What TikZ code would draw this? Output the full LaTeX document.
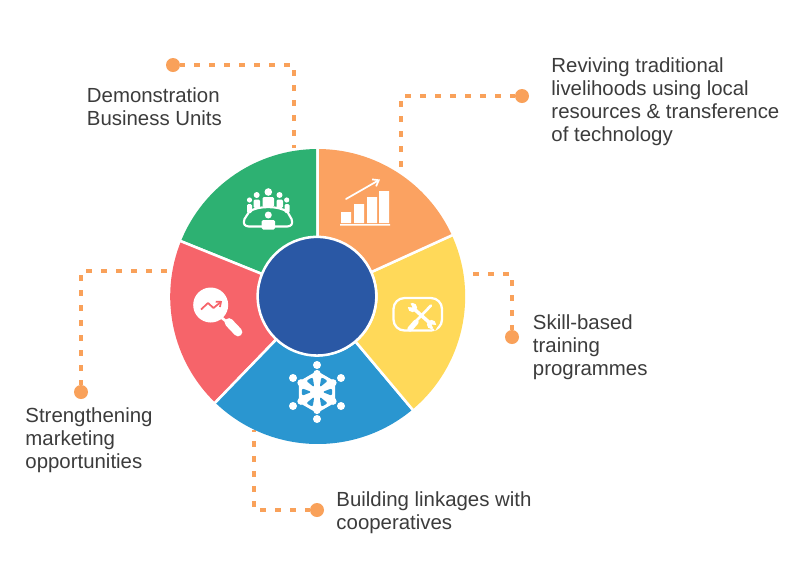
\documentclass[tikz,border=0pt]{standalone}
\usepackage{fontspec}
\setmainfont{Liberation Sans}
\usetikzlibrary{arrows.meta}
\definecolor{cgreen}{HTML}{2DB172}
\definecolor{corange}{HTML}{FBA261}
\definecolor{cyellow}{HTML}{FFD959}
\definecolor{cblue}{HTML}{2A96D0}
\definecolor{cred}{HTML}{F6646A}
\definecolor{ccentre}{HTML}{2A58A5}
\definecolor{cline}{HTML}{F9A15A}
\definecolor{ctext}{HTML}{3C3C3C}
\tikzset{
  sector/.style={draw=white,line width=1.9pt,line join=round},
  conn/.style={draw=cline,line width=2.3pt,dash pattern=on 4.3pt off 6.95pt,dash phase=.75pt},
  dot/.style={circle,fill=cline,minimum size=10.5pt,inner sep=0pt},
  lab/.style={anchor=north west,inner sep=0pt,align=left,text=ctext,font=\fontsize{15.3}{17.25}\selectfont},
  ic/.style={fill=white,draw=none},
  icl/.style={draw=white,line cap=round,line join=round}
}
\newcommand{\sect}[3]{\fill[#1] (#2:60) -- (#2:147.5) arc[start angle=#2,end angle=#3,radius=147.5] -- (#3:60) arc[start angle=#3,end angle=#2,radius=60] -- cycle;
\draw[sector] (#2:60) -- (#2:148) (#3:60) -- (#3:148);}
\begin{document}
\begin{tikzpicture}[x=.75pt,y=-.75pt]
\useasboundingbox (0,0) rectangle (801,576);
\fill[white] (0,0) rectangle (801,576);
% connectors
\node[dot] (d1) at (173,65) {};
\node[dot] (d2) at (522,96) {};
\node[dot] (d3) at (512,337) {};
\node[dot] (d4) at (317,510) {};
\node[dot] (d5) at (81,392) {};
\coordinate (e1) at (294,148);
\coordinate (e2) at (401,178);
\coordinate (e3) at (464,274);
\coordinate (e4) at (254,430);
\coordinate (e5) at (172,271);
\draw[conn] (d1) -| (e1);
\draw[conn] (d2) -| (e2);
\draw[conn] (d3) |- (e3);
\draw[conn] (d4) -| (e4);
\draw[conn] (d5) |- (e5);
% wheel
\begin{scope}[shift={(317.7,296.5)},yscale=-1]
\sect{cgreen}{90}{158}
\sect{cred}{158}{226}
\sect{cblue}{226}{310}
\sect{cyellow}{310}{384.5}
\sect{corange}{24.5}{90}
\end{scope}
\node[circle,fill=ccentre,draw=white,line width=1.9pt,minimum size=89pt,inner sep=0pt] (hub) at (317,296.2) {};
% green icon
\fill[ic] (268.3,192) circle (3.8) (256.7,195) circle (3) (279.5,195) circle (3) (249.5,200) circle (2.6) (286.7,200) circle (2.6) (268.3,215) circle (3.5);
\fill[ic,rounded corners=1pt] (262.5,197) rectangle (274,207) (253.5,199.5) rectangle (260,208) (276.5,199.5) rectangle (283,208) (247,204) rectangle (252,213) (284.5,204) rectangle (289.5,213);
\draw[icl,line width=1.6pt] (249,212) .. controls (256,205.5) and (280,205.5) .. (287.5,212) -- (291.5,219) .. controls (293.5,224) and (291,226.5) .. (287,226.5) -- (249,226.5) .. controls (245,226.5) and (242.5,224) .. (244.5,219) -- cycle;
\fill[ic,rounded corners=1pt] (261.7,220) rectangle (275,229.5);
% orange icon
\fill[ic] (341,212) rectangle (351,223) (354,204) rectangle (364,223) (367,197) rectangle (377,223) (379,191) rectangle (389,223) (340,224) rectangle (390,225.5);
\draw[icl,line width=1.3pt,-{Straight Barb[length=4pt,width=6pt]}] (346,199) -- (380,179.5);
% red icon
\fill[ic] (210.7,305) circle (17.5);
\draw[icl,line width=2pt] (222,318) -- (227,322);
\draw[icl,line width=6.5pt] (229,322.5) -- (238,332);
\draw[cred,line width=1.3pt,line join=round,-{Straight Barb[length=3pt,width=5pt]}] (201,309.5) -- (208,303) -- (213.5,308) -- (222,301);
% blue icon
\fill[ic] (317,365) circle (4) (293,378) circle (4) (341,378) circle (4) (293,406) circle (4) (341,406) circle (4) (317,419) circle (4);
\begin{scope}[shift={(317,392)},yscale=-1]
\foreach \a in {90,150,210,270,330,30}{
  \fill[ic] (\a:18.5) circle (3.6);
}
\fill[ic] (90:21) -- (150:21) -- (210:21) -- (270:21) -- (330:21) -- (30:21) -- cycle;
\foreach \a in {60,120,180,240,300,0}{
  \fill[cblue,rounded corners=1.5pt] (\a:5.5) -- (\a+14:15.5) -- (\a-14:15.5) -- cycle;
}
\end{scope}
% yellow icon
\draw[icl,line width=1.7pt] (393.5,309) arc[start angle=180,end angle=270,radius=11] -- (431,298) arc[start angle=270,end angle=360,radius=11] -- (442,319.5) arc[start angle=0,end angle=90,radius=11] -- (404.5,330.5) arc[start angle=90,end angle=180,radius=11] -- cycle;
\fill[ic] (412.5,307.5) circle (4.6) (431.5,324.5) circle (4.6);
\fill[cyellow] (412.5,307.5) -- (406,306.5) -- (409,301) -- cycle;
\fill[cyellow] (431.5,324.5) -- (438,325.5) -- (435,331) -- cycle;
\draw[icl,line width=2.6pt,line cap=butt] (412.5,307.5) -- (431.5,324.5);
\draw[icl,line width=2pt] (417,320) -- (431,305.5);
\draw[icl,line width=4pt] (410,329) -- (416,322);
% texts
\node[lab] (t1) at (86.7,87.2) {Demonstration\\Business Units};
\node[lab] (t2) at (551.2,57.2) {Reviving traditional\\livelihoods using local\\resources \& transference\\of technology};
\node[lab] (t3) at (532.7,314.2) {Skill-based\\training\\programmes};
\node[lab] (t4) at (25.2,407.2) {Strengthening\\marketing\\opportunities};
\node[lab] (t5) at (336.2,491.2) {Building linkages with\\cooperatives};
\end{tikzpicture}
\end{document}
